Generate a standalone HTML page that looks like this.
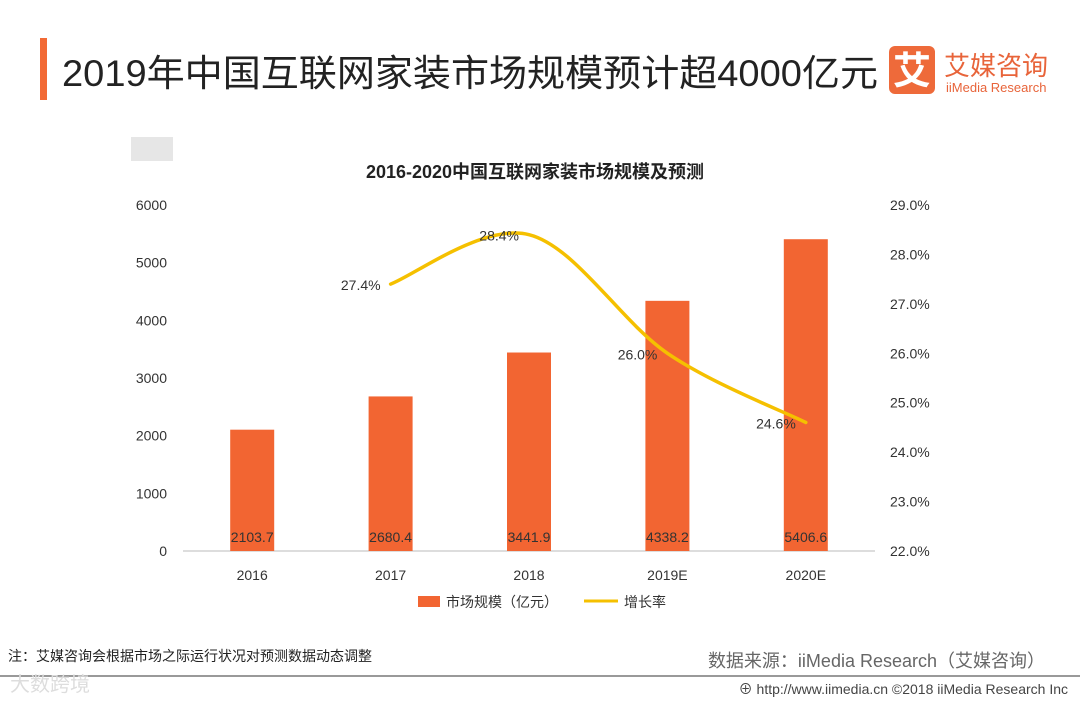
<!DOCTYPE html>
<html><head><meta charset="utf-8"><style>
body{margin:0;background:#fff;}
svg text{font-family:"Liberation Sans","Noto Sans CJK SC",sans-serif;}
</style></head><body>
<svg width="1080" height="700" xmlns="http://www.w3.org/2000/svg" id="chart">
<rect x="40" y="38" width="7" height="62" fill="#f26a35"/>
<text x="62" y="86" font-size="37" fill="#222" textLength="816" lengthAdjust="spacingAndGlyphs">2019年中国互联网家装市场规模预计超4000亿元</text>
<g>
<rect x="889" y="46" width="46" height="48" rx="6" fill="#ee6a3a"/>
<text x="912" y="84" font-size="38" fill="#fff" text-anchor="middle" font-weight="bold">艾</text>
<text x="944" y="75" font-size="26" fill="#e8643a">艾媒咨询</text>
<text x="946" y="92" font-size="13" fill="#e8643a">iiMedia Research</text>
</g>
<rect x="131" y="137" width="42" height="24" fill="#e6e6e6"/>
<text x="535" y="178" font-size="18" font-weight="bold" fill="#222" text-anchor="middle">2016-2020中国互联网家装市场规模及预测</text>
<g id="plot"></g>
<g>
<rect x="418" y="596" width="22" height="11" fill="#f26532"/>
<text x="446" y="607" font-size="14" fill="#333">市场规模（亿元）</text>
<line x1="584" y1="601" x2="618" y2="601" stroke="#f5c000" stroke-width="3"/>
<text x="624" y="607" font-size="14" fill="#333">增长率</text>
</g>
<text x="8" y="661" font-size="14" fill="#222">注：艾媒咨询会根据市场之际运行状况对预测数据动态调整</text>
<text x="1045" y="667" font-size="18" fill="#666" text-anchor="end">数据来源：iiMedia Research（艾媒咨询）</text>
<line x1="0" y1="676" x2="1080" y2="676" stroke="#999" stroke-width="2"/>
<text x="10" y="691" font-size="20" fill="#ddd">大数跨境</text>
<text x="1068" y="694" font-size="14" fill="#444" text-anchor="end">⊕ http://www.iimedia.cn    ©2018  iiMedia Research  Inc</text>
</svg>
<script>
const categories=["2016","2017","2018","2019E","2020E"];
const marketValues=[2103.7,2680.4,3441.9,4338.2,5406.6];
const growthCats=["2017","2018","2019E","2020E"];
const growthValues=[27.4,28.4,26.0,24.6];
const leftTicks=[0,1000,2000,3000,4000,5000,6000];
const rightTicks=[22,23,24,25,26,27,28,29];
(function(){
const NS="http://www.w3.org/2000/svg";
const g=document.getElementById('plot');
const x0=183,x1=875,yB=551,yT=205;
const band=(x1-x0)/categories.length;
const xc=c=>x0+band*(categories.indexOf(c)+0.5);
const yL=v=>yB-(v/6000)*(yB-yT);
const yR=v=>yB-((v-22)/7)*(yB-yT);
function mk(t,a,txt){const e=document.createElementNS(NS,t);for(const k in a)e.setAttribute(k,a[k]);if(txt!=null)e.textContent=txt;g.appendChild(e);return e;}
leftTicks.forEach(v=>{const e=mk('text',{x:167,y:yL(v)+5,'font-size':14,fill:'#333','text-anchor':'end'},v);

});
rightTicks.forEach(v=>{const e=mk('text',{x:890,y:yR(v)+5,'font-size':14,fill:'#333'},v.toFixed(1)+'%');

});
const ax=mk('line',{x1:x0,y1:yB,x2:x1,y2:yB,stroke:'#bbb','stroke-width':1});


categories.forEach((c,i)=>{
const b=mk('rect',{x:xc(c)-22,y:yL(marketValues[i]),width:44,height:yB-yL(marketValues[i]),fill:'#f26532'});


const l=mk('text',{x:xc(c),y:yB-9,'font-size':14,fill:'#333','text-anchor':'middle'},marketValues[i].toFixed(1));


const t=mk('text',{x:xc(c),y:yB+29,'font-size':14,fill:'#333','text-anchor':'middle'},c);


});
const pts=growthCats.map((c,i)=>[xc(c),yR(growthValues[i])]);
let d='M'+pts[0][0]+','+pts[0][1];
for(let i=0;i<pts.length-1;i++){const p0=pts[Math.max(0,i-1)],p1=pts[i],p2=pts[i+1],p3=pts[Math.min(pts.length-1,i+2)];
const k=0.5/3;
d+=' C'+(p1[0]+(p2[0]-p0[0])*k)+','+(p1[1]+(p2[1]-p0[1])*k)+' '+(p2[0]-(p3[0]-p1[0])*k)+','+(p2[1]-(p3[1]-p1[1])*k)+' '+p2[0]+','+p2[1];}
const ln=mk('path',{d:d,fill:'none',stroke:'#f5c000','stroke-width':3.5,'stroke-linecap':'round'});


pts.forEach((p,i)=>{const t=mk('text',{x:p[0]-10,y:p[1]+6,'font-size':14,fill:'#333','text-anchor':'end'},growthValues[i].toFixed(1)+'%');

});
})();
</script>
</body></html>
